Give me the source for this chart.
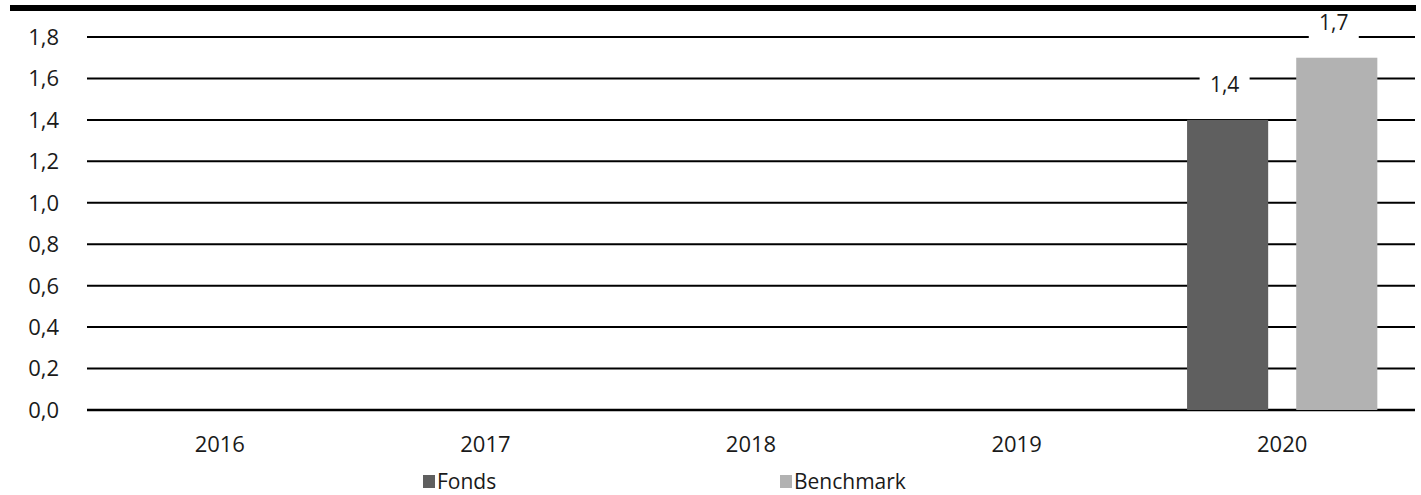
<!DOCTYPE html>
<html>
<head>
<meta charset="utf-8">
<script src="https://cdn.jsdelivr.net/npm/d3@7"></script>
<style>
  body { margin: 0; background: #fff; }
  text { font-family: "Open Sans", sans-serif; fill: #1a1a1a; }
</style>
</head>
<body>
<div id="chart"></div>
<script>
// Data
const years = ["2016", "2017", "2018", "2019", "2020"];
const seriesNames = ["Fonds", "Benchmark"];
const fonds = [null, null, null, null, 1.4];
const benchmark = [null, null, null, null, 1.7];
const yTicks = [0, 0.2, 0.4, 0.6, 0.8, 1.0, 1.2, 1.4, 1.6, 1.8];
const colors = ["#5f5f5f", "#b2b2b2"];

const width = 1421;
const height = 495;
const margin = { top: 37, right: 6, bottom: 85, left: 87 };

const svg = d3
  .select("#chart")
  .append("svg")
  .attr("width", width)
  .attr("height", height);

const locale = d3.formatLocale({ decimal: ",", thousands: ".", grouping: [3], currency: ["", "€"] });
const fmt = locale.format(".1f");

const xScale = d3
  .scaleBand()
  .domain(years)
  .range([margin.left, width - margin.right]);

const xInner = d3
  .scaleBand()
  .domain(seriesNames)
  .range([0, xScale.bandwidth()])
  .paddingInner(0.257)
  .paddingOuter(0.345);

const yScale = d3
  .scaleLinear()
  .domain([0, 1.8])
  .range([height - margin.bottom, margin.top]);

// gridlines
svg
  .append("g")
  .selectAll("line")
  .data(yTicks)
  .join("line")
  .attr("x1", margin.left)
  .attr("x2", width - margin.right)
  .attr("y1", (d) => yScale(d))
  .attr("y2", (d) => yScale(d))
  .attr("stroke", "#000")
  .attr("stroke-width", (d) => (d === 0 ? 2.5 : 2));

// y labels
svg
  .append("g")
  .selectAll("text")
  .data(yTicks)
  .join("text")
  .attr("x", 59)
  .attr("y", (d) => yScale(d))
  .attr("dy", "0.36em")
  .attr("text-anchor", "end")
  .style("font-size", "22px")
  .text((d) => fmt(d));

// x labels
svg
  .append("g")
  .selectAll("text")
  .data(years)
  .join("text")
  .attr("x", (d) => xScale(d) + xScale.bandwidth() / 2)
  .attr("y", 452)
  .attr("text-anchor", "middle")
  .style("font-size", "22px")
  .text((d) => d);

// bars
const rows = years.map((y, i) => ({ year: y, values: [fonds[i], benchmark[i]] }));
const bars = [];
rows.forEach((r) => {
  r.values.forEach((v, j) => {
    if (v !== null) bars.push({ year: r.year, series: seriesNames[j], value: v, color: colors[j] });
  });
});

const barGroup = svg.append("g");
barGroup
  .selectAll("rect")
  .data(bars)
  .join("rect")
  .attr("x", (d) => xScale(d.year) + xInner(d.series))
  .attr("y", (d) => yScale(d.value))
  .attr("width", xInner.bandwidth())
  .attr("height", (d) => yScale(0) - yScale(d.value))
  .attr("fill", (d) => d.color);

// value labels with white background
const labels = svg
  .append("g")
  .selectAll("g")
  .data(bars)
  .join("g")
  .attr(
    "transform",
    (d) => `translate(${xScale(d.year) + xInner(d.series) + xInner.bandwidth() / 2 - 3}, ${yScale(d.value) - 35})`
  );

labels
  .append("rect")
  .attr("x", -25)
  .attr("y", -14)
  .attr("width", 50)
  .attr("height", 31)
  .attr("fill", "#fff");

labels
  .append("text")
  .attr("text-anchor", "middle")
  .attr("dy", "0.36em")
  .style("font-size", "21px")
  .text((d) => fmt(d.value));

// thick rule on top
svg
  .append("rect")
  .attr("x", 10)
  .attr("y", 5)
  .attr("width", width - 15)
  .attr("height", 6)
  .attr("fill", "#000");

// legend
const legendX = [423, 780];
const legend = svg
  .append("g")
  .selectAll("g")
  .data(seriesNames)
  .join("g")
  .attr("transform", (d, i) => `translate(${legendX[i]}, 475)`);

legend
  .append("rect")
  .attr("width", 12)
  .attr("height", 13)
  .attr("fill", (d, i) => colors[i]);

legend
  .append("text")
  .attr("x", 14)
  .attr("y", 14)
  .style("font-size", "21px")
  .text((d) => d);
</script>
</body>
</html>
